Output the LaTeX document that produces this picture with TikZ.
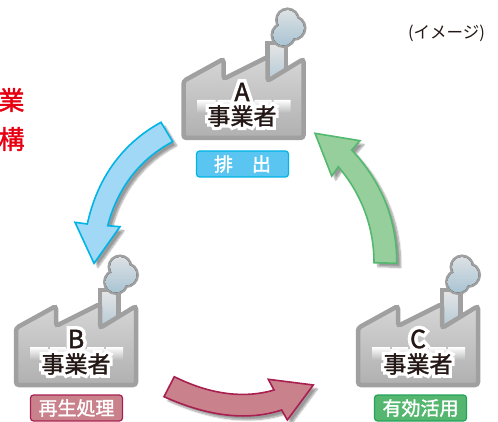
\documentclass[tikz,border=0pt]{standalone}
\usepackage{fontspec}
\usetikzlibrary{shadows.blur}
\newfontfamily\cjk[FakeBold=1.5]{Noto Sans CJK JP}
\newfontfamily\cjkplain{Noto Sans CJK JP}
\newfontfamily\cjkhalo[FakeBold=30]{Noto Sans CJK JP}
\newcommand{\halotext}[2]{\makebox[0pt][l]{\cjkhalo\fontsize{#1}{#1}\selectfont\textcolor{white}{#2}}\cjk\fontsize{#1}{#1}\selectfont#2}
\definecolor{wallline}{HTML}{A0A0A0}
\definecolor{walltop}{HTML}{D6D6D6}
\definecolor{wallbottom}{HTML}{B0B0B0}
\definecolor{inkdark}{HTML}{231815}
\definecolor{smoketop}{HTML}{DCE1E4}
\definecolor{smokebottom}{HTML}{A9C4D3}
\definecolor{bluefill}{HTML}{A0D8F5}
\definecolor{blueline}{HTML}{00B4E6}
\definecolor{bluebadge}{HTML}{5BC5F2}
\definecolor{greenfill}{HTML}{96CF9C}
\definecolor{greenline}{HTML}{55B86F}
\definecolor{greenbadge}{HTML}{55B670}
\definecolor{greenedge}{HTML}{22A35A}
\definecolor{redfill}{HTML}{C9828C}
\definecolor{redline}{HTML}{A81F50}
\definecolor{redtext}{HTML}{E60012}
\tikzset{
	wall/.style={draw=wallline,line width=4.5pt,rounded corners=3pt,top color=walltop,bottom color=wallbottom},
	pics/factory/.style={code={
		% chimney, then smoke, then the building
		\draw[draw=wallline,line width=4.5pt,top color=gray!20,bottom color=smokebottom] (84,-50) -- (84,-95) -- (102.5,-95) -- (102.5,-50) -- cycle;
		\draw[wallline,line width=5pt] (104,-118) circle (10) (110,-110) circle (10.5) (100,-103) circle (10.5);
		\fill[top color=smoketop,bottom color=smokebottom] (104,-118) circle (10) (110,-110) circle (10.5) (100,-103) circle (10.5);
		\draw[wall] (0,0) -- (0,-57) -- (40,-79) -- (40,-59) -- (84,-81) -- (84,-57) -- (120,-79) -- (120,0) -- cycle;
		\shade[top color=white,bottom color=wallbottom!85!walltop] (14,-24) -- (14,-38) -- (32,-38) -- (32,-36) -- (34,-36) -- (34,-38) -- (50,-38) -- (50,-36) -- (52,-36) -- (52,-38) -- (69,-38) -- (69,-36) -- (71,-36) -- (71,-38) -- (88,-38) -- (88,-36) -- (90,-36) -- (90,-38) -- (107,-38) -- (107,-24) -- cycle;
	}},
	letter/.style={text=inkdark,inner sep=0pt},
	owner/.style={text=inkdark,inner sep=0pt},
	badge/.style={rounded corners=3pt,line width=1.2pt,minimum width=92pt,minimum height=26pt,inner sep=0pt,text=white,font=\cjk\fontsize{19}{19}\selectfont},
	flow/.style={line width=1.6pt,line join=miter,blur shadow={shadow xshift=4pt,shadow yshift=-4pt,shadow blur steps=8}},
}
\begin{document}
\begin{tikzpicture}[x=1pt,y=-1pt]
	\useasboundingbox (0,0) rectangle (498,422);

	\pic at (183.5,138) {factory};
	\pic at (16,385) {factory};
	\pic at (358,385) {factory};

	\node[letter,name=letterA] at (242,92) {\halotext{25}{A}};
	\node[owner,name=ownerA] at (242,116) {\halotext{23}{事業者}};
	\node[letter,name=letterB] at (76,339) {\halotext{25}{B}};
	\node[owner,name=ownerB] at (76,364) {\halotext{23}{事業者}};
	\node[letter,name=letterC] at (418,339) {\halotext{25}{C}};
	\node[owner,name=ownerC] at (418,364) {\halotext{23}{事業者}};

	\node[badge,name=exhaust,draw=blueline,fill=bluebadge] at (242.5,164) {排\hspace{1em}出};
	\node[badge,name=recycle,draw=redline,fill=redfill] at (76.5,408) {再生処理};
	\node[badge,name=reuse,draw=greenedge,fill=greenbadge] at (420.5,408) {有効活用};

	% flows between the factories
	\path[flow,draw=blueline,fill=bluefill] (161,122.3) .. controls (125,142) and (98,175) .. (87.3,224)
		-- (75,222.3) -- (94,263.3) -- (120,226.7) -- (107.7,225.7)
		.. controls (117,190) and (138,160) .. (172.7,141.7) -- cycle;
	\path[flow,draw=greenline,fill=greenfill] (315,133.3) -- (360,140.7) -- (351.7,150)
		.. controls (378,178) and (397,215) .. (396.7,263.3) -- (374,262.7)
		.. controls (374,225) and (360,192) .. (338.3,166.7) -- (331.7,176) -- cycle;
	\path[flow,draw=redline,fill=redfill] (174.3,376.7) .. controls (205,392) and (240,400) .. (274,390)
		-- (268.3,379.3) -- (313.3,385) -- (287.3,420) -- (281.7,410)
		.. controls (245,422) and (205,415) .. (164,396.7) -- cycle;

	\node[name=scope,font=\cjkplain\fontsize{16.5}{16.5}\selectfont,text=inkdark,inner sep=0pt] at (446.5,33) {(イメージ)};
	\node[name=redtop,font=\cjk\fontsize{26}{26}\selectfont,text=redtext,inner sep=0pt] at (11.5,100) {業};
	\node[name=redbottom,font=\cjk\fontsize{26}{26}\selectfont,text=redtext,inner sep=0pt] at (11.5,139) {構};
\end{tikzpicture}
\end{document}
